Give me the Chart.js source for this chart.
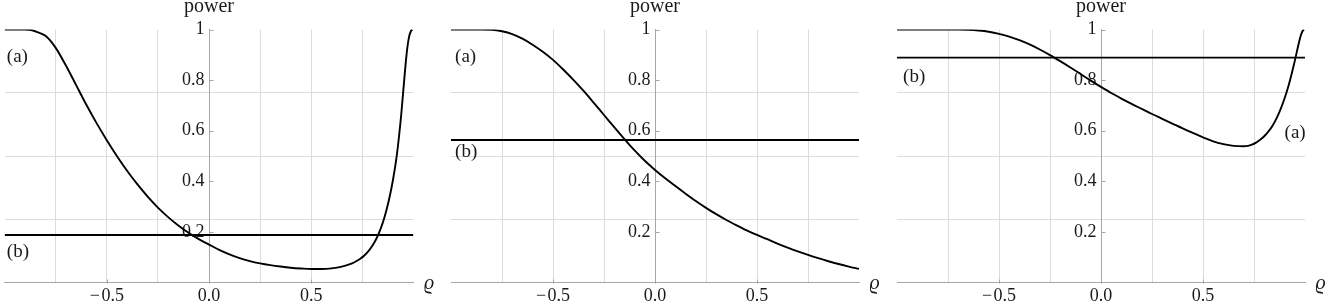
<!DOCTYPE html>
<html>
<head>
<meta charset="utf-8">
<script src="https://cdn.jsdelivr.net/npm/chart.js@4.4.1/dist/chart.umd.min.js"></script>
<style>
  html, body { margin: 0; padding: 0; background: #ffffff; }
  #wrap { position: relative; width: 1332px; height: 307px; }
  canvas { position: absolute; top: 0; }
</style>
</head>
<body>
<div id="wrap">
  <canvas id="c1" width="444" height="307" style="left:0px"></canvas>
  <canvas id="c2" width="444" height="307" style="left:444px"></canvas>
  <canvas id="c3" width="444" height="307" style="left:888px"></canvas>
</div>
<script>
// ---------- data ----------
const xAxisTitle = "\u03F1";
const yAxisTitle = "power";

const xTickValues = [-0.5, 0, 0.5];
const yTickValues = [0.2, 0.4, 0.6, 0.8, 1];
const xGridValues = [-0.75, -0.5, -0.25, 0.25, 0.5, 0.75];
const yGridValues = [0.25, 0.5, 0.75];

// panel 1
const p1CurveX = [-1, -0.9, -0.87, -0.84, -0.8, -0.75, -0.7, -0.65, -0.6, -0.55, -0.5, -0.45, -0.4, -0.35, -0.3, -0.25, -0.2, -0.15, -0.1, -0.05, 0, 0.05, 0.1, 0.15, 0.2, 0.25, 0.3, 0.35, 0.4, 0.45, 0.5, 0.55, 0.6, 0.65, 0.7, 0.72, 0.74, 0.76, 0.78, 0.8, 0.82, 0.84, 0.86, 0.88, 0.9, 0.92, 0.94, 0.955, 0.967, 0.978, 0.988, 0.995];
const p1CurveY = [1, 1, 0.998, 0.99, 0.975, 0.9275, 0.8575, 0.78, 0.7025, 0.63, 0.5625, 0.499, 0.4405, 0.3875, 0.3395, 0.296, 0.2585, 0.2255, 0.1965, 0.1715, 0.150, 0.129, 0.111, 0.096, 0.0845, 0.0755, 0.0685, 0.063, 0.0585, 0.0555, 0.0535, 0.0535, 0.056, 0.063, 0.076, 0.084, 0.094, 0.107, 0.124, 0.146, 0.175, 0.213, 0.262, 0.325, 0.405, 0.51, 0.66, 0.80, 0.905, 0.968, 0.994, 1.0];
const p1Level = 0.188;

// panel 2
const p2CurveX = [-1, -0.85, -0.8, -0.75, -0.7, -0.65, -0.6, -0.55, -0.5, -0.45, -0.4, -0.35, -0.3, -0.25, -0.2, -0.15, -0.1, -0.05, 0, 0.05, 0.1, 0.15, 0.2, 0.25, 0.3, 0.35, 0.4, 0.45, 0.5, 0.55, 0.6, 0.65, 0.7, 0.75, 0.8, 0.85, 0.9, 0.95, 1.0];
const p2CurveY = [1, 1, 0.999, 0.993, 0.982, 0.964, 0.940, 0.912, 0.880, 0.842, 0.801, 0.757, 0.710, 0.662, 0.614, 0.567, 0.522, 0.481, 0.445, 0.412, 0.381, 0.351, 0.322, 0.295, 0.270, 0.247, 0.226, 0.206, 0.188, 0.171, 0.154, 0.138, 0.123, 0.109, 0.096, 0.084, 0.073, 0.063, 0.054];
const p2Level = 0.563;

// panel 3
const p3CurveX = [-1, -0.7, -0.65, -0.6, -0.55, -0.5, -0.45, -0.4, -0.35, -0.3, -0.25, -0.2, -0.15, -0.1, -0.05, 0, 0.05, 0.1, 0.15, 0.2, 0.25, 0.3, 0.35, 0.4, 0.45, 0.5, 0.55, 0.6, 0.65, 0.7, 0.72, 0.74, 0.76, 0.78, 0.8, 0.82, 0.84, 0.86, 0.88, 0.9, 0.92, 0.935, 0.95, 0.965, 0.978, 0.988, 0.995];
const p3CurveY = [1, 1, 0.999, 0.996, 0.991, 0.983, 0.972, 0.958, 0.941, 0.921, 0.899, 0.875, 0.850, 0.824, 0.798, 0.773, 0.749, 0.727, 0.706, 0.686, 0.666, 0.647, 0.628, 0.609, 0.591, 0.574, 0.558, 0.547, 0.540, 0.5385, 0.540, 0.545, 0.553, 0.564, 0.578, 0.596, 0.619, 0.648, 0.684, 0.728, 0.780, 0.826, 0.876, 0.930, 0.972, 0.994, 1.0];
const p3Level = 0.889;

const levelX = [-1, 1];

// ---------- styling ----------
const FONT = "'Liberation Serif', 'DejaVu Serif', serif";
const TICK_SIZE = 18;
const TITLE_SIZE = 20;
const LABEL_SIZE = 19;
const TEXT = "#1a1a1a";
const AXIS = "#a6a6a6";
const GRID = "#dcdcdc";

const decor = {
  id: 'decor',
  afterDatasetsDraw(chart, args, opts) {
    const {ctx, chartArea, scales} = chart;
    const xs = scales.xt, ys = scales.yt;
    ctx.save();
    ctx.strokeStyle = AXIS;
    ctx.lineWidth = 1;
    const x0 = Math.round(xs.getPixelForValue(0)) + 0.5;
    const y0 = Math.round(ys.getPixelForValue(0)) + 0.5;
    ctx.beginPath();
    yTickValues.forEach(v => {
      const py = Math.round(ys.getPixelForValue(v)) + 0.5;
      ctx.moveTo(x0, py); ctx.lineTo(x0 + 4, py);
    });
    xTickValues.forEach(v => {
      const px = Math.round(xs.getPixelForValue(v)) + 0.5;
      ctx.moveTo(px, y0); ctx.lineTo(px, y0 - 4);
    });
    ctx.stroke();

    ctx.fillStyle = TEXT;
    ctx.font = TITLE_SIZE + "px " + FONT;
    ctx.textAlign = 'center';
    ctx.textBaseline = 'alphabetic';
    ctx.fillText(yAxisTitle, xs.getPixelForValue(0), chartArea.top - 17.5);

    ctx.font = "italic " + TITLE_SIZE + "px " + FONT;
    ctx.textAlign = 'left';
    ctx.fillText(xAxisTitle, chartArea.right + 10.5, chartArea.bottom + 6.5);

    ctx.font = LABEL_SIZE + "px " + FONT;
    ctx.textBaseline = 'middle';
    (opts.labels || []).forEach(l => {
      ctx.fillText(l.text, xs.getPixelForValue(l.x), ys.getPixelForValue(l.y));
    });
    ctx.restore();
  }
};

function fmtX(v) {
  const s = Math.abs(v).toFixed(1);
  return v < 0 ? "\u2212\u200A" + s : s;
}
function fmtY(v) {
  return (v === 1 ? "1" : v.toFixed(1)) + " ";
}

function makePanel(id, cx, cy, level, pad, labels) {
  const curve = cx.map((x, i) => ({x: x, y: cy[i]}));
  const line = levelX.map(x => ({x: x, y: level}));
  return new Chart(document.getElementById(id), {
    type: 'scatter',
    data: {
      datasets: [
        { data: curve, showLine: true, borderColor: '#000', borderWidth: 1.9, pointRadius: 0,
          cubicInterpolationMode: 'monotone', fill: false, xAxisID: 'x', yAxisID: 'y' },
        { data: line, showLine: true, borderColor: '#000', borderWidth: 1.9, pointRadius: 0,
          fill: false, xAxisID: 'x', yAxisID: 'y' }
      ]
    },
    options: {
      responsive: false,
      animation: false,
      devicePixelRatio: 1,
      layout: { padding: pad },
      plugins: { legend: { display: false }, tooltip: { enabled: false }, decor: { labels: labels } },
      scales: {
        x: {
          type: 'linear', min: -1, max: 1, position: 'bottom',
          afterBuildTicks: s => { s.ticks = xGridValues.map(v => ({value: v})); },
          ticks: { display: false },
          grid: { color: GRID, lineWidth: 1, drawTicks: false },
          border: { display: false }
        },
        y: {
          type: 'linear', min: 0, max: 1, position: 'left',
          afterBuildTicks: s => { s.ticks = yGridValues.map(v => ({value: v})); },
          ticks: { display: false },
          grid: { color: GRID, lineWidth: 1, drawTicks: false },
          border: { display: false }
        },
        xt: {
          type: 'linear', min: -1, max: 1, axis: 'x', position: { yt: 0 },
          afterBuildTicks: s => { s.ticks = xTickValues.map(v => ({value: v})); },
          ticks: { callback: v => fmtX(v), color: TEXT, font: { family: FONT, size: TICK_SIZE }, padding: 3, maxRotation: 0, autoSkip: false },
          grid: { drawOnChartArea: false, drawTicks: false },
          border: { display: true, color: AXIS, width: 1 }
        },
        yt: {
          type: 'linear', min: 0, max: 1, axis: 'y', position: { xt: 0 },
          afterBuildTicks: s => { s.ticks = yTickValues.map(v => ({value: v})); },
          ticks: { callback: v => fmtY(v), color: TEXT, font: { family: FONT, size: TICK_SIZE }, padding: 5, autoSkip: false },
          grid: { drawOnChartArea: false, drawTicks: false },
          border: { display: true, color: AXIS, width: 1 }
        }
      }
    },
    plugins: [decor]
  });
}

makePanel('c1', p1CurveX, p1CurveY, p1Level,
  {left: 4.6, right: 30.6, top: 29.5, bottom: 24.5},
  [{text: "(a)", x: -0.989, y: 0.891}, {text: "(b)", x: -0.989, y: 0.119}]);
makePanel('c2', p2CurveX, p2CurveY, p2Level,
  {left: 7, right: 29, top: 29.5, bottom: 24.5},
  [{text: "(a)", x: -0.98, y: 0.891}, {text: "(b)", x: -0.98, y: 0.517}]);
makePanel('c3', p3CurveX, p3CurveY, p3Level,
  {left: 9, right: 27, top: 29.5, bottom: 24.5},
  [{text: "(b)", x: -0.97, y: 0.811}, {text: "(a)", x: 0.90, y: 0.59}]);
</script>
</body>
</html>
